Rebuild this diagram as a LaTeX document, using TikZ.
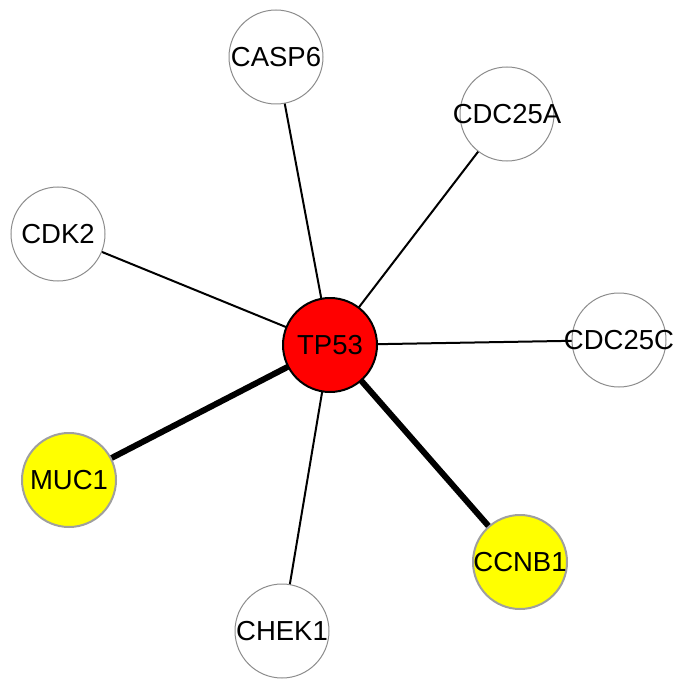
\documentclass[tikz,border=0pt]{standalone}
\usepackage{fontspec}
\setmainfont{Liberation Sans}
\usetikzlibrary{backgrounds}
\definecolor{hityellow}{RGB}{255,255,0}
\tikzset{
  gene/.style={circle, inner sep=0pt, minimum size=94pt, draw=gray!90, line width=1pt, fill=white,
    font=\fontsize{27.5}{32}\selectfont},
  hit/.style={gene, fill=hityellow, draw=gray!75, line width=2pt},
  hub/.style={gene, fill=red, draw=black, line width=2pt},
  thin edge/.style={draw=black, line width=2pt},
  thick edge/.style={draw=black, line width=6pt},
}
\newcommand{\lbl}[1]{\makebox[0pt]{#1}}
\begin{document}
\begin{tikzpicture}[x=1pt,y=-1pt]
\useasboundingbox (0,0) rectangle (675,679);
\node[hub]  (TP53)   at (330,345) {\lbl{TP53}};
\node[gene] (CASP6)  at (276,57)  {\lbl{CASP6}};
\node[gene] (CDC25A) at (507,114) {\lbl{CDC25A}};
\node[gene] (CDK2)   at (58,234)  {\lbl{CDK2}};
\node[gene] (CDC25C) at (619,340) {\lbl{CDC25C}};
\node[hit]  (MUC1)   at (69,480)  {\lbl{MUC1}};
\node[hit]  (CCNB1)  at (520,562) {\lbl{CCNB1}};
\node[gene] (CHEK1)  at (282,631) {\lbl{CHEK1}};
\begin{scope}[on background layer]
\draw[thin edge] (TP53.center) -- (CASP6.center);
\draw[thin edge] (TP53.center) -- (CDC25A.center);
\draw[thin edge] (TP53.center) -- (CDK2.center);
\draw[thin edge] (TP53.center) -- (CDC25C.center);
\draw[thin edge] (TP53.center) -- (CHEK1.center);
\draw[thick edge] (TP53.center) -- (MUC1.center);
\draw[thick edge] (TP53.center) -- (CCNB1.center);
\end{scope}
\end{tikzpicture}
\end{document}
